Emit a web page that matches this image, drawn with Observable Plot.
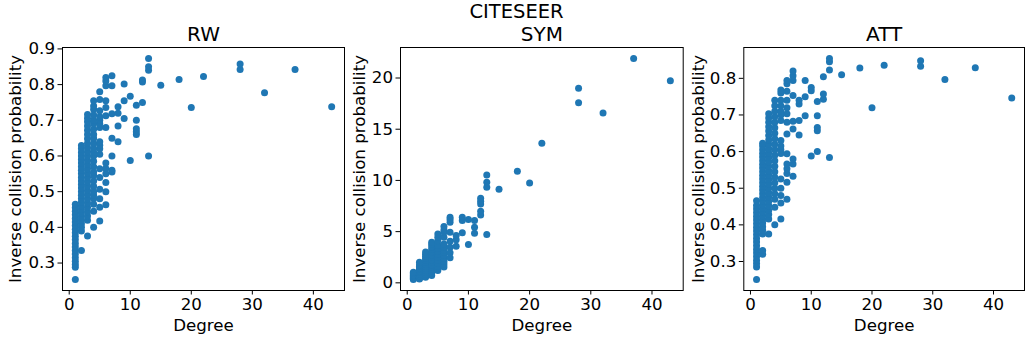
<!DOCTYPE html>
<html><head><meta charset="utf-8">
<script src="https://cdn.jsdelivr.net/npm/d3@7"></script>
<script src="https://cdn.jsdelivr.net/npm/@observablehq/plot@0.6"></script>
<style>
body{margin:0;background:#fff;font-family:"DejaVu Sans",sans-serif;}
#root{position:relative;width:1025px;height:343px;overflow:hidden;background:#fff;}
.panel{position:absolute;top:0;}
#sup{position:absolute;left:0;width:1033px;top:0;text-align:center;font-size:19.5px;line-height:normal;color:#000;}
</style></head><body>
<div id="root"><div id="sup">CITESEER</div></div>
<script>
const suptitle = "CITESEER";
const panelTitles = ["RW", "SYM", "ATT"];
const xLabel = "Degree";
const yLabel = "Inverse collision probability";
const xTicks = [0, 10, 20, 30, 40];
const rwTicks = [0.3, 0.4, 0.5, 0.6, 0.7, 0.8, 0.9];
const symTicks = [0, 5, 10, 15, 20];
const attTicks = [0.3, 0.4, 0.5, 0.6, 0.7, 0.8];

// [degree, inverse collision probability]
const rwPoints = [
  [1,0.254],[1,0.288],[1,0.296],[1,0.305],[1,0.315],[1,0.325],[1,0.335],[1,0.345],[1,0.355],[1,0.365],[1,0.375],[1,0.385],[1,0.395],[1,0.405],[1,0.415],[1,0.425],[1,0.435],[1,0.445],[1,0.455],[1,0.465],
  [2,0.335],[2,0.39],[2,0.40],[2,0.41],[2,0.42],[2,0.43],[2,0.44],[2,0.45],[2,0.46],[2,0.47],[2,0.48],[2,0.49],[2,0.50],[2,0.51],[2,0.52],[2,0.53],[2,0.54],[2,0.55],[2,0.56],[2,0.57],[2,0.58],[2,0.59],[2,0.60],[2,0.61],[2,0.62],[2,0.629],
  [3,0.376],[3,0.42],[3,0.432],[3,0.444],[3,0.456],[3,0.468],[3,0.48],[3,0.492],[3,0.504],[3,0.516],[3,0.528],[3,0.54],[3,0.552],[3,0.564],[3,0.576],[3,0.588],[3,0.60],[3,0.612],[3,0.624],[3,0.636],[3,0.648],[3,0.66],[3,0.672],[3,0.684],[3,0.696],[3,0.706],[3,0.716],
  [4,0.40],[4,0.445],[4,0.465],[4,0.48],[4,0.49],[4,0.50],[4,0.515],[4,0.53],[4,0.545],[4,0.555],[4,0.57],[4,0.585],[4,0.60],[4,0.61],[4,0.62],[4,0.635],[4,0.65],[4,0.66],[4,0.675],[4,0.69],[4,0.70],[4,0.715],[4,0.73],[4,0.74],[4,0.755],
  [5,0.418],[5,0.456],[5,0.48],[5,0.507],[5,0.54],[5,0.564],[5,0.605],[5,0.62],[5,0.63],[5,0.64],[5,0.68],[5,0.69],[5,0.70],[5,0.71],[5,0.727],[5,0.758],[5,0.78],
  [6,0.463],[6,0.50],[6,0.526],[6,0.55],[6,0.565],[6,0.58],[6,0.68],[6,0.713],[6,0.736],[6,0.755],[6,0.797],[6,0.81],[6,0.82],
  [7,0.555],[7,0.56],[7,0.60],[7,0.65],[7,0.718],[7,0.797],[7,0.825],
  [8,0.64],[8,0.684],[8,0.72],[8,0.738],
  [9,0.705],[9,0.755],[9,0.802],
  [10,0.587],[10,0.767],
  [11,0.66],[11,0.668],[11,0.676],[11,0.70],[11,0.742],
  [12,0.75],[12,0.807],[12,0.813],
  [13,0.60],[13,0.84],[13,0.85],[13,0.873],
  [15,0.798],[18,0.814],[20,0.736],[22,0.823],[28,0.842],[28,0.858],[32,0.777],[37,0.842],[43,0.738]
];

const symPoints = [
  [1,0.33],[1,0.42],[1,0.5],[1,0.6],[1,0.7],[1,0.8],[1,0.9],[1,1.03],
  [2,0.38],[2,0.45],[2,0.55],[2,0.7],[2,0.85],[2,1.0],[2,1.15],[2,1.3],[2,1.45],[2,1.6],[2,1.75],[2,2.0],
  [3,0.55],[3,0.7],[3,0.85],[3,1.0],[3,1.2],[3,1.4],[3,1.6],[3,1.8],[3,2.0],[3,2.2],[3,2.4],[3,2.6],[3,2.8],[3,3.0],
  [4,0.72],[4,0.95],[4,1.15],[4,1.35],[4,1.55],[4,1.75],[4,2.0],[4,2.25],[4,2.5],[4,2.75],[4,3.0],[4,3.25],[4,3.5],[4,3.75],[4,3.96],
  [5,1.2],[5,1.4],[5,1.6],[5,1.9],[5,2.2],[5,2.5],[5,2.8],[5,3.1],[5,3.4],[5,3.7],[5,4.1],[5,4.46],[5,4.78],
  [6,1.55],[6,1.85],[6,2.1],[6,2.4],[6,2.7],[6,3.0],[6,3.2],[6,3.48],[6,3.8],[6,4.46],[6,4.94],[6,5.17],[6,5.5],
  [7,2.44],[7,2.93],[7,3.48],[7,4.07],[7,4.94],[7,5.92],[7,6.18],[7,6.4],
  [8,3.58],[8,4.2],[8,4.62],
  [9,4.88],[9,6.08],[9,6.4],
  [10,3.74],[10,6.18],
  [11,4.85],[11,5.43],[11,6.08],
  [12,6.63],[12,7.0],[12,7.7],[12,7.97],[12,8.26],
  [13,4.72],[13,9.33],[13,9.82],[13,10.54],
  [15,9.14],[18,10.89],[20,9.76],[22,13.63],[28,17.59],[28,18.99],[32,16.59],[37,21.9],[43,19.74]
];

const attPoints = [
  [1,0.251],[1,0.285],[1,0.294],[1,0.303],[1,0.313],[1,0.323],[1,0.333],[1,0.343],[1,0.353],[1,0.363],[1,0.373],[1,0.383],[1,0.393],[1,0.403],[1,0.413],[1,0.423],[1,0.433],[1,0.443],[1,0.453],[1,0.466],
  [2,0.32],[2,0.33],[2,0.375],[2,0.385],[2,0.395],[2,0.405],[2,0.415],[2,0.425],[2,0.435],[2,0.445],[2,0.455],[2,0.465],[2,0.475],[2,0.485],[2,0.495],[2,0.505],[2,0.515],[2,0.525],[2,0.535],[2,0.545],[2,0.555],[2,0.565],[2,0.575],[2,0.585],[2,0.595],[2,0.605],[2,0.615],[2,0.623],
  [3,0.375],[3,0.416],[3,0.428],[3,0.44],[3,0.452],[3,0.464],[3,0.476],[3,0.488],[3,0.50],[3,0.512],[3,0.524],[3,0.536],[3,0.548],[3,0.56],[3,0.572],[3,0.584],[3,0.596],[3,0.608],[3,0.62],[3,0.632],[3,0.644],[3,0.656],[3,0.668],[3,0.68],[3,0.692],[3,0.703],
  [4,0.40],[4,0.448],[4,0.47],[4,0.485],[4,0.50],[4,0.515],[4,0.53],[4,0.545],[4,0.56],[4,0.575],[4,0.59],[4,0.605],[4,0.62],[4,0.635],[4,0.65],[4,0.665],[4,0.68],[4,0.695],[4,0.71],[4,0.725],[4,0.74],
  [5,0.416],[5,0.46],[5,0.48],[5,0.50],[5,0.525],[5,0.595],[5,0.605],[5,0.615],[5,0.63],[5,0.685],[5,0.70],[5,0.71],[5,0.725],[5,0.74],[5,0.76],[5,0.768],
  [6,0.47],[6,0.516],[6,0.54],[6,0.553],[6,0.566],[6,0.594],[6,0.648],[6,0.68],[6,0.703],[6,0.72],[6,0.74],[6,0.765],[6,0.785],[6,0.794],
  [7,0.533],[7,0.566],[7,0.58],[7,0.662],[7,0.683],[7,0.753],[7,0.794],[7,0.807],[7,0.82],
  [8,0.645],[8,0.685],[8,0.73],[8,0.74],
  [9,0.698],[9,0.75],[9,0.794],
  [10,0.588],[10,0.766],[10,0.775],
  [11,0.60],[11,0.657],[11,0.666],[11,0.698],[11,0.737],
  [12,0.743],[12,0.757],[12,0.804],
  [13,0.584],[13,0.823],[13,0.845],[13,0.854],
  [15,0.81],[18,0.828],[20,0.72],[22,0.836],[28,0.833],[28,0.848],[32,0.797],[37,0.829],[43,0.746]
];

const layout = [
  {data: rwPoints, ticks: rwTicks, fmt: d3.format(".1f"), left: 0, width: 350, marginLeft: 62, marginRight: 6, labelDx: -41.5},
  {data: symPoints, ticks: symTicks, fmt: d3.format("d"), left: 345, width: 345, marginLeft: 55, marginRight: 7.3, labelDx: -35.5},
  {data: attPoints, ticks: attTicks, fmt: d3.format(".1f"), left: 690, width: 335, marginLeft: 53.3, marginRight: 1, labelDx: -39.5}
];

function padded(values) {
  const [lo, hi] = d3.extent(values);
  const s = hi - lo;
  return [lo - 0.05 * s, hi + 0.05 * s];
}

const root = document.getElementById("root");
document.getElementById("sup").textContent = suptitle;

layout.forEach((p, i) => {
  const chart = Plot.plot({
    width: p.width,
    height: 343,
    marginTop: 47,
    marginBottom: 53,
    marginLeft: p.marginLeft,
    marginRight: p.marginRight,
    style: {fontFamily: "DejaVu Sans", fontSize: "16.67px", color: "#000", background: "transparent", overflow: "visible"},
    x: {domain: padded(p.data.map(d => d[0]))},
    y: {domain: padded(p.data.map(d => d[1]))},
    marks: [
      Plot.dot(p.data, {x: d => d[0], y: d => d[1], r: 3.5, fill: "#1f77b4"}),
      Plot.frame({stroke: "#000", strokeWidth: 1}),
      Plot.axisX({ticks: xTicks, tickSize: 4.5, tickPadding: 3, label: null, tickFormat: d3.format("d"), stroke: "#000", fontSize: 16.67}),
      Plot.axisY({ticks: p.ticks, tickSize: 4.5, tickPadding: 3, label: null, tickFormat: p.fmt, stroke: "#000", fontSize: 16.67}),
      Plot.text([panelTitles[i]], {frameAnchor: "top", dy: -6.5, lineAnchor: "bottom", textAnchor: "middle", fontSize: 20, fill: "#000"}),
      Plot.text([xLabel], {frameAnchor: "bottom", dy: 40, lineAnchor: "bottom", textAnchor: "middle", fontSize: 16.67, fill: "#000"}),
      Plot.text([yLabel], {frameAnchor: "left", dx: p.labelDx, rotate: -90, lineAnchor: "bottom", textAnchor: "middle", fontSize: 16.67, fill: "#000"})
    ]
  });
  chart.classList.add("panel");
  chart.style.left = p.left + "px";
  root.appendChild(chart);
});
</script>
</body></html>
